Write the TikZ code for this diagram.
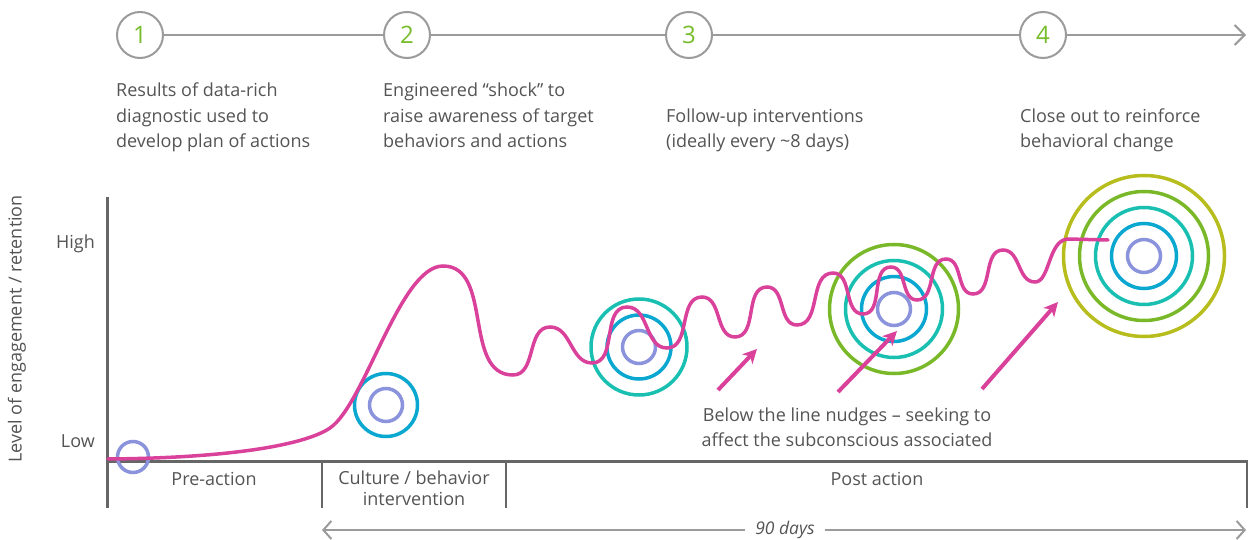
\documentclass[tikz,border=0pt]{standalone}
\usepackage{fontspec}
\setmainfont{Open Sans}
\usetikzlibrary{arrows.meta}

\definecolor{txt}{HTML}{545454}
\definecolor{axisgray}{HTML}{666666}
\definecolor{linegray}{HTML}{9B9B9B}
\definecolor{stepgreen}{HTML}{77BC2A}
\definecolor{curvepink}{HTML}{D9419B}
\definecolor{ringlav}{HTML}{8A93DC}
\definecolor{ringblue}{HTML}{0AA7D0}
\definecolor{ringteal}{HTML}{19BFB1}
\definecolor{ringgreen}{HTML}{79B929}
\definecolor{ringolive}{HTML}{B6BD1C}

\tikzset{
  bodytext/.style={text=txt, inner sep=0pt, font=\fontsize{18}{25.5}\selectfont},
  stepcirc/.style={circle, draw=linegray, line width=2pt, fill=white,
    minimum size=46pt, inner sep=0pt, text=stepgreen,
    font=\fontsize{24}{24}\selectfont},
  timeline/.style={draw=linegray, line width=2pt},
  axisline/.style={draw=axisgray, line width=3pt},
  ring/.style={circle, draw=#1, line width=3.5pt, inner sep=0pt},
  nudge/.style={draw=curvepink, line width=4pt,
    -{Stealth[length=14pt,width=14pt,inset=4pt]}},
}

\begin{document}
\begin{tikzpicture}[x=1pt,y=-1pt]
\useasboundingbox (0,0) rectangle (1248,540);

% --- step timeline ---
\node[stepcirc] (s1) at (140,35) {1};
\node[stepcirc] (s2) at (407,35) {2};
\node[stepcirc] (s3) at (689,35) {3};
\node[stepcirc] (s4) at (1043,35) {4};
\coordinate (tend) at (1246,35);
\draw[timeline] (s1) -- (s2);
\draw[timeline] (s2) -- (s3);
\draw[timeline] (s3) -- (s4);
\draw[timeline, -{Straight Barb[length=10pt,width=20pt]}] (s4) -- (tend);

\node[bodytext, anchor=north west, align=left] (t1) at (116,83)
  {Results of data-rich\\diagnostic used to\\develop plan of actions};
\node[bodytext, anchor=north west, align=left] (t2) at (383,83)
  {Engineered “shock” to\\raise awareness of target\\behaviors and actions};
\node[bodytext, anchor=north west, align=left] (t3) at (666,108.5)
  {Follow-up interventions\\(ideally every \textasciitilde8 days)};
\node[bodytext, anchor=north west, align=left] (t4) at (1020,108.5)
  {Close out to reinforce\\behavioral change};

% --- axes ---
\coordinate (ytop) at (107,197);
\coordinate (org) at (107,461);
\coordinate (xend) at (1248,461);
\draw[axisline] (ytop) -- (107,508);
\draw[axisline] (105.5,461) -- (xend);
\draw[axisline, line width=2.5pt] (322,461) -- (322,508);
\draw[axisline, line width=2.5pt] (506,461) -- (506,508);
\draw[axisline, line width=2pt] (1246.5,461) -- (1246.5,508);

\node[bodytext, anchor=base east] (high) at (95,248) {High};
\node[bodytext, anchor=base east] (low) at (95,447) {Low};
\node[bodytext, rotate=90] (ylab) at (17,329) {Level of engagement / retention};

\node[bodytext, anchor=base] (p1) at (214,485) {Pre-action};
\node[bodytext, anchor=north, align=center,
  font=\fontsize{18}{21}\selectfont] (p2) at (414,471)
  {Culture / behavior\\intervention};
\node[bodytext, anchor=base] (p3) at (877,485) {Post action};

% --- 90 days span ---
\node[bodytext, font=\fontsize{17.5}{20}\itshape] (days) at (785,530) {90 days};
\coordinate (dl) at (322,530);
\coordinate (dr) at (1246,530);
\draw[timeline, -{Straight Barb[length=8pt,width=18pt]}] (days.west) ++(-10,0) -- (dl);
\draw[timeline, -{Straight Barb[length=8pt,width=18pt]}] (days.east) ++(10,0) -- (dr);

% --- target rings ---
\node[ring=ringlav, minimum size=31pt] (a1) at (133,457) {};

\node[ring=ringblue, minimum size=63pt] (b2) at (386,405) {};
\node[ring=ringlav, minimum size=33pt] (b1) at (386,405) {};

\node[ring=ringteal, minimum size=96pt] (c3) at (639,347) {};
\node[ring=ringblue, minimum size=64pt] (c2) at (639,347) {};
\node[ring=ringlav, minimum size=33pt] (c1) at (639,347) {};

\node[ring=ringgreen, minimum size=129pt] (d4) at (894,309) {};
\node[ring=ringteal, minimum size=97pt] (d3) at (894,309) {};
\node[ring=ringblue, minimum size=65pt] (d2) at (894,309) {};
\node[ring=ringlav, minimum size=33pt] (d1) at (894,309) {};

\node[ring=ringolive, minimum size=161pt] (e5) at (1144,256) {};
\node[ring=ringgreen, minimum size=129pt] (e4) at (1144,256) {};
\node[ring=ringteal, minimum size=97pt] (e3) at (1144,256) {};
\node[ring=ringblue, minimum size=65pt] (e2) at (1144,256) {};
\node[ring=ringlav, minimum size=33pt] (e1) at (1144,256) {};

% --- engagement curve ---
\draw[curvepink, line width=3.5pt, line cap=round]
  (108,459) .. controls (230,458) and (305,445) .. (330,428)
  .. controls (365,404) and (400,266) .. (443,266)
  to[out=0,in=180] (513,375)
  to[out=0,in=180] (550,327)
  to[out=0,in=180] (592,363)
  to[out=0,in=180] (627,307)
  to[out=0,in=180] (667,348)
  to[out=0,in=180] (702,297)
  to[out=0,in=180] (735,337)
  to[out=0,in=180] (767,287)
  to[out=0,in=180] (797,325)
  to[out=0,in=180] (833,273)
  to[out=0,in=180] (863,314)
  to[out=0,in=180] (891,267)
  to[out=0,in=180] (917,300)
  to[out=0,in=180] (946,259)
  to[out=0,in=180] (973,294)
  to[out=0,in=180] (1003,250)
  to[out=0,in=180] (1035,282)
  .. controls (1050,282) and (1048,240) .. (1068,239)
  -- (1108,240);

% --- nudge arrows ---
\coordinate (n1a) at (718,390); \coordinate (n1b) at (757,349);
\coordinate (n2a) at (838,392); \coordinate (n2b) at (897,331);
\coordinate (n3a) at (982,389); \coordinate (n3b) at (1058,302);
\draw[nudge] (n1a) -- (n1b);
\draw[nudge] (n2a) -- (n2b);
\draw[nudge] (n3a) -- (n3b);

\node[bodytext, align=center, anchor=north] (nudgetext) at (847,407.5)
  {Below the line nudges – seeking to\\affect the subconscious associated};
\end{tikzpicture}
\end{document}
